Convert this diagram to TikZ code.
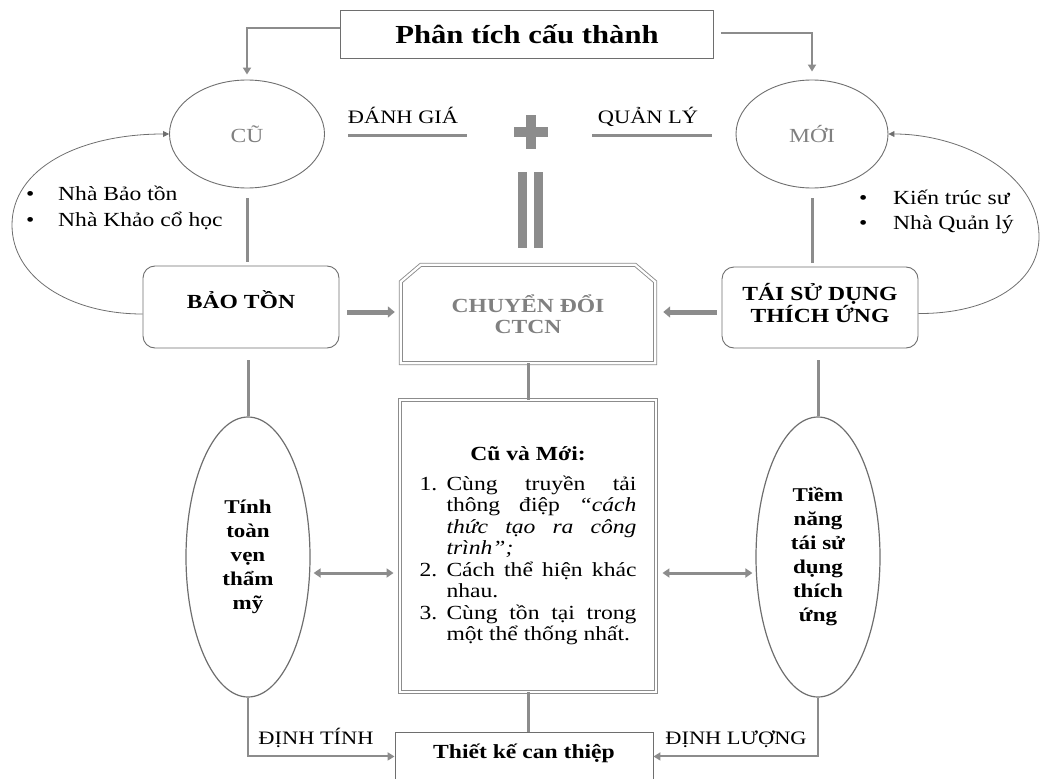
\documentclass[tikz,border=0pt]{standalone}
\usepackage{fontspec}
\setmainfont{Liberation Serif}[FakeStretch=1.18]
\usetikzlibrary{arrows.meta,shapes.geometric,calc}
\definecolor{lg}{HTML}{8C8C8C}
\definecolor{tg}{HTML}{808080}
\definecolor{bd}{HTML}{6E6E6E}
\begin{document}
\begin{tikzpicture}[x=1pt,y=-1pt,
  box/.style={draw=bd, line width=0.9pt, inner sep=0pt},
  rbox/.style={draw=bd, line width=0.9pt, rounded corners=12pt, align=center, inner sep=0pt, font=\fontsize{20}{22}\selectfont\bfseries},
  circ/.style={ellipse, draw=bd, line width=0.9pt, inner sep=0pt, font=\fontsize{20}{22}\selectfont},
  ell/.style={ellipse, draw=bd, line width=1.2pt, inner sep=0pt, align=center, font=\fontsize{19.5}{24}\selectfont\bfseries},
  dbl/.style={draw=lg, line width=0.9pt, double=white, double distance=2.2pt},
  lbl/.style={font=\fontsize{19}{21}\selectfont, inner sep=0pt, anchor=base},
  thinarrow/.style={draw=bd, line width=0.8pt, -{Triangle[width=6pt,length=6pt]}},
  garrow/.style={draw=lg, line width=2pt, -{Triangle[width=8pt,length=7pt]}},
  fatarrow/.style={draw=lg, line width=5pt, -{Triangle[width=11pt,length=7pt]}},
  vline/.style={draw=lg, line width=3pt},
  twoarrow/.style={draw=lg, line width=3pt, {Triangle[width=9pt,length=7pt]}-{Triangle[width=9pt,length=7pt]}},
  hbar/.style={draw=lg, line width=3pt}
]
\useasboundingbox (0,0) rectangle (1040,778);

% title
\node[box, minimum width=373, minimum height=48, font=\fontsize{26}{28}\selectfont\bfseries] (title) at (527,34) {Phân tích cấu thành};

% top circles
\node[circ, minimum width=155, minimum height=108, text=tg] (cu) at (247,134) {CŨ};
\node[circ, minimum width=152, minimum height=108, text=tg] (mo) at (812,134) {MỚI};

\draw[garrow, shorten >=5pt] ([yshift=6pt]title.west) -| (cu.north);
\draw[garrow, shorten <=7pt, shorten >=8pt] ([yshift=1pt]title.east) -| (mo.north);

% labels with bars
\node[lbl] (dg) at (403,124) {ĐÁNH GIÁ};
\node[lbl] (ql) at (648,124) {QUẢN LÝ};
\draw[hbar] (348,136) -- (467,136);
\draw[hbar] (592,136) -- (712,136);

% plus and equals
\fill[lg] (514,127) rectangle (548,137);
\fill[lg] (526,115) rectangle (536,149);
\fill[lg] (518,172) rectangle (527,248);
\fill[lg] (534,172) rectangle (543,248);

% bullets
\node[lbl, anchor=west, align=left, font=\fontsize{20}{26}\selectfont] (bl) at (26,208) {\makebox[32pt][l]{•}Nhà Bảo tồn\\\makebox[32pt][l]{•}Nhà Khảo cổ học};
\node[lbl, anchor=west, align=left, font=\fontsize{20}{25}\selectfont] (br) at (859,212) {\makebox[34pt][l]{•}Kiến trúc sư\\\makebox[34pt][l]{•}Nhà Quản lý};

% middle row boxes
\node[rbox, minimum width=196, minimum height=82, text depth=14pt] (bao) at (241,307) {BẢO TỒN};
\node[rbox, minimum width=196, minimum height=81, text depth=10pt] (tai) at (820,307.5) {TÁI SỬ DỤNG\\THÍCH ỨNG};
\node[minimum width=254, minimum height=98, inner sep=0pt, align=center, text=tg, font=\fontsize{20}{21}\selectfont\bfseries] (ctcn) at (528,314) {CHUYỂN ĐỔI\\CTCN};
\draw[dbl] (ctcn.south west) -- ([yshift=-17pt]ctcn.north west) -- ([xshift=20pt]ctcn.north west)
  -- ([xshift=-20pt]ctcn.north east) -- ([yshift=-17pt]ctcn.north east) -- (ctcn.south east) -- cycle;

% loops
\draw[thinarrow] ([yshift=-7pt]bao.west) .. controls (70,314) and (12,278) .. (12,225)
  .. controls (12,168) and (80,134) .. (cu.west);
\draw[thinarrow] ([yshift=-6pt]tai.east) .. controls (990,314) and (1039,282) .. (1039,237)
  .. controls (1039,172) and (960,134) .. (mo.east);

% vertical connectors top
\draw[vline, shorten <=10pt, shorten >=4pt] (cu.south) -- (cu.south |- bao.north);
\draw[vline, shorten <=10pt, shorten >=4pt] (mo.south) -- (mo.south |- tai.north);

% fat arrows
\draw[fatarrow, shorten <=8pt, shorten >=6pt] ([yshift=-5pt]bao.east) -- ([yshift=-5pt]bao.east -| ctcn.west);
\draw[fatarrow, shorten <=5pt, shorten >=8pt] ([yshift=-4.5pt]tai.west) -- ([yshift=-4.5pt]tai.west -| ctcn.east);

% ellipses
\node[ell, minimum width=124, minimum height=280] (le) at (248,557) {Tính\\toàn\\vẹn\\thẩm\\mỹ};
\node[ell, minimum width=124, minimum height=280] (re) at (818,557) {Tiềm\\năng\\tái sử\\dụng\\thích\\ứng};

\draw[vline, shorten <=12pt] (bao.south -| le.north) -- (le.north);
\draw[vline, shorten <=12pt] (tai.south -| re.north) -- (re.north);

% middle box
\node[dbl, minimum height=292, text width=217, inner xsep=19.5pt, inner ysep=0pt, align=justify, font=\fontsize{20}{21.5}\selectfont] (mid) at (528,546) {%
{\centering\textbf{Cũ và Mới:}\par}\vspace{8pt}%
\hangindent=27pt\hangafter=1\noindent\makebox[27pt][l]{1.}Cùng truyền tải\linebreak thông điệp \textit{“cách\linebreak thức tạo ra công\linebreak trình”;}\par
\hangindent=27pt\hangafter=1\noindent\makebox[27pt][l]{2.}Cách thể hiện khác\linebreak nhau.\par
\hangindent=27pt\hangafter=1\noindent\makebox[27pt][l]{3.}Cùng tồn tại trong\linebreak một thể thống nhất.\par};

\draw[vline] (ctcn.south) -- (ctcn.south |- mid.north);

\coordinate (la) at ([yshift=-16pt]le.east);
\coordinate (ra) at ([yshift=-16pt]re.west);
\draw[twoarrow, shorten <=3pt, shorten >=6pt] (la) -- (la -| mid.west);
\draw[twoarrow, shorten <=3pt, shorten >=6pt] (ra) -- (ra -| mid.east);

% bottom
\node[box, minimum width=258, minimum height=48, anchor=north, text depth=10pt, font=\fontsize{20}{22}\selectfont\bfseries] (tk) at (524,732) {Thiết kế can thiệp};
\draw[vline] (mid.south) -- (mid.south |- tk.north);
\draw[garrow] (le.south) |- (tk.west);
\draw[garrow] (re.south) |- (tk.east);
\node[lbl] (dt) at (316,744) {ĐỊNH TÍNH};
\node[lbl] (dl) at (736,744) {ĐỊNH LƯỢNG};
\end{tikzpicture}
\end{document}
